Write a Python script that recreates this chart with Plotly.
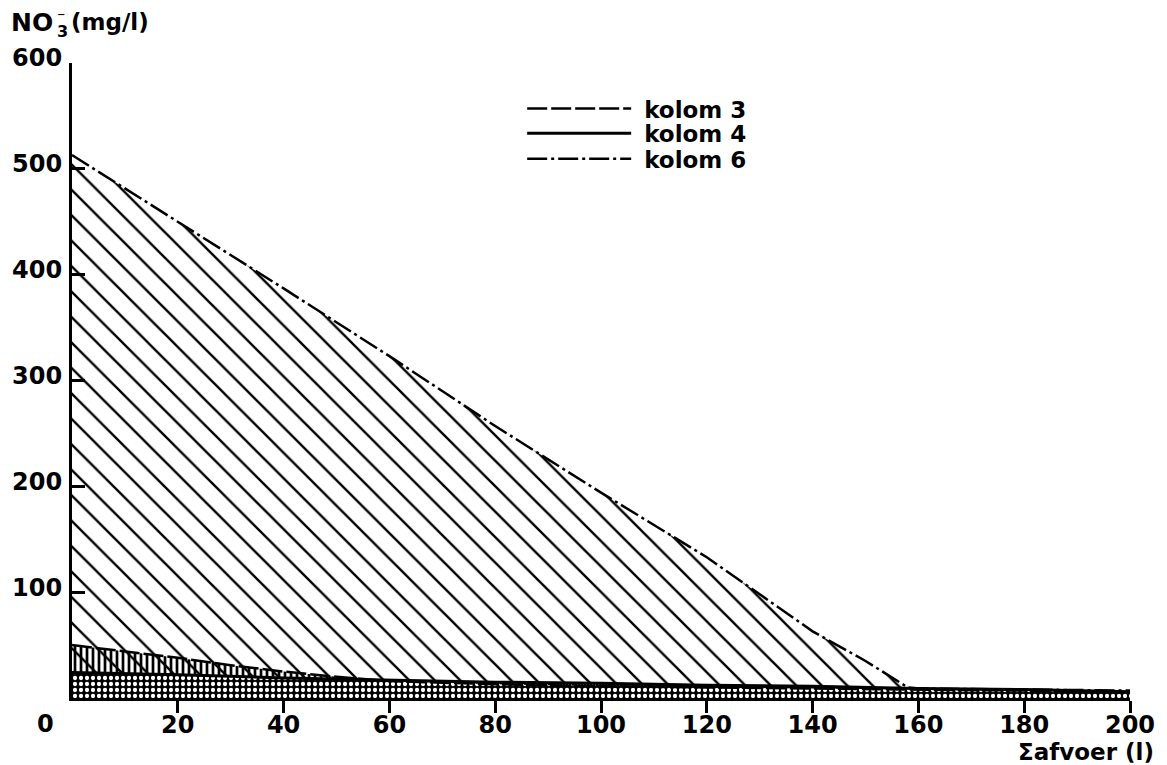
import plotly.graph_objects as go

# Cumulative drainage (l) and nitrate concentration (mg/l) per column
x_k6 = [0, 20, 40, 60, 80, 100, 120, 140, 150, 158, 160, 180, 200]
no3_k6 = [513, 450, 387, 323, 257, 194, 133, 63, 35, 10, 9, 8, 7]

x_k4 = [0, 20, 40, 60, 80, 100, 120, 140, 160, 180, 200]
no3_k4 = [24, 22, 19, 17, 15, 14, 12, 11, 9, 8, 6]

x_k3 = [0, 10, 20, 30, 40, 50, 60, 80, 100, 120, 140, 160, 180, 200]
no3_k3 = [50, 44, 38, 31, 25, 20, 16, 13, 11, 10, 9, 8, 7, 5]

x_ticks = [20, 40, 60, 80, 100, 120, 140, 160, 180, 200]
y_ticks = [100, 200, 300, 400, 500, 600]
series_names = ["kolom 3", "kolom 4", "kolom 6"]

FONT = "DejaVu Sans"
BLACK = "#000000"
CLEAR = "rgba(0,0,0,0)"

fig = go.Figure()

# kolom 6: diagonal hatching under the curve
fig.add_trace(go.Scatter(
    x=x_k6, y=no3_k6, mode="lines", fill="tozeroy",
    line=dict(color=BLACK, width=0),
    fillcolor=BLACK,
    fillpattern=dict(shape="\\", size=18, solidity=0.13,
                     fgcolor=BLACK, bgcolor=CLEAR, fgopacity=1),
    showlegend=False, hoverinfo="skip",
))

# kolom 4: dark mottled band
fig.add_trace(go.Scatter(
    x=x_k4, y=no3_k4, mode="lines", fill="tozeroy",
    line=dict(color=BLACK, width=0),
    fillcolor=BLACK,
    fillpattern=dict(shape=".", size=6, solidity=0.4,
                     fgcolor="white", bgcolor=BLACK, fgopacity=1),
    showlegend=False, hoverinfo="skip",
))

# kolom 3: vertical hatching between kolom 4 and kolom 3
fig.add_trace(go.Scatter(
    x=x_k3, y=no3_k3, mode="lines", fill="tonexty",
    line=dict(color=BLACK, width=0),
    fillcolor=BLACK,
    fillpattern=dict(shape="|", size=6, solidity=0.45,
                     fgcolor=BLACK, bgcolor=CLEAR, fgopacity=1),
    showlegend=False, hoverinfo="skip",
))

# outlines, each with its own legend entry
fig.add_trace(go.Scatter(
    x=x_k3, y=no3_k3, mode="lines", name="\u00a0" + series_names[0],
    legend="legend",
    line=dict(color=BLACK, width=2.5, dash="20px,4px"),
))
fig.add_trace(go.Scatter(
    x=x_k4, y=no3_k4, mode="lines", name="\u00a0" + series_names[1],
    legend="legend2",
    line=dict(color=BLACK, width=3),
))
fig.add_trace(go.Scatter(
    x=x_k6, y=no3_k6, mode="lines", name="\u00a0" + series_names[2],
    legend="legend3",
    line=dict(color=BLACK, width=2.5, dash="20px,4px,3px,4px"),
))

tick_font = dict(family=FONT, size=24, weight="bold", color=BLACK)


def legend_box(ypos):
    return dict(
        x=0.4255, y=ypos, xanchor="left", yanchor="top",
        bgcolor=CLEAR, borderwidth=0, itemwidth=104,
        font=dict(family=FONT, size=23, weight="bold", color=BLACK),
    )


fig.update_layout(
    width=1167, height=765,
    margin=dict(l=70, r=37, t=63, b=67),
    paper_bgcolor="white", plot_bgcolor="white",
    font=dict(family=FONT, color=BLACK, size=22),
    showlegend=True,
    legend=legend_box(0.962),
    legend2=legend_box(0.923),
    legend3=legend_box(0.883),
    xaxis=dict(
        range=[0, 200], showgrid=False, zeroline=False,
        showline=True, linecolor=BLACK, linewidth=3,
        ticks="outside", ticklen=12, tickwidth=2.5, tickcolor=BLACK,
        tickvals=x_ticks, ticktext=[str(v) for v in x_ticks],
        tickfont=tick_font, ticklabelstandoff=-9,
    ),
    yaxis=dict(
        range=[0, 600], showgrid=False, zeroline=False,
        showline=True, linecolor=BLACK, linewidth=3,
        ticks="inside", ticklen=13, tickwidth=2.5, tickcolor=BLACK,
        tickvals=y_ticks, ticktext=[str(v) for v in y_ticks],
        tickfont=tick_font, ticklabelstandoff=2, ticklabelshift=-5,
    ),
)

# origin label
fig.add_annotation(
    x=0, y=0, xref="x", yref="y", text="0", showarrow=False,
    xanchor="center", yanchor="middle", xshift=-27, yshift=-26,
    font=tick_font,
)

# x axis title
fig.add_annotation(
    x=1.0, y=0, xref="paper", yref="paper",
    text="\u03a3afvoer (l)", showarrow=False,
    xanchor="right", yanchor="middle", xshift=26, yshift=-54,
    font=dict(family=FONT, size=23, weight="bold"),
)

# y axis title: NO3- (mg/l), the charge sign stacked over the subscript 3
title_font = dict(family=FONT, size=23, weight="bold", color=BLACK)
fig.add_annotation(
    x=0, y=1, xref="paper", yref="paper", text="NO", showarrow=False,
    xanchor="left", yanchor="middle", xshift=-63, yshift=41,
    font=dict(family=FONT, size=25, weight="bold", color=BLACK),
)
fig.add_annotation(
    x=0, y=1, xref="paper", yref="paper", text="3", showarrow=False,
    xanchor="left", yanchor="middle", xshift=-17, yshift=32,
    font=dict(family=FONT, size=16, weight="bold", color=BLACK),
)
fig.add_annotation(
    x=0, y=1, xref="paper", yref="paper", text="\u208b", showarrow=False,
    xanchor="left", yanchor="middle", xshift=-17, yshift=52,
    font=dict(family=FONT, size=16, weight="bold", color=BLACK),
)
fig.add_annotation(
    x=0, y=1, xref="paper", yref="paper", text="(mg/l)", showarrow=False,
    xanchor="left", yanchor="middle", xshift=-3, yshift=41,
    font=title_font,
)

fig.write_html("out.html")
